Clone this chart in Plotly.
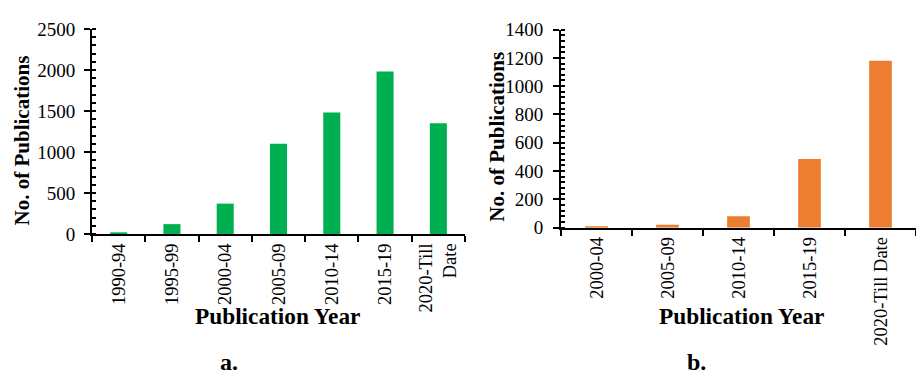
import plotly.graph_objects as go

# Data
cats_a = ["1990-94", "1995-99", "2000-04", "2005-09", "2010-14", "2015-19", "2020-Till Date"]
vals_a = [20, 120, 370, 1100, 1480, 1980, 1350]
ticks_a = ["1990-94", "1995-99", "2000-04", "2005-09", "2010-14", "2015-19", "2020-Till<br>Date"]

cats_b = ["2000-04", "2005-09", "2010-14", "2015-19", "2020-Till Date"]
vals_b = [10, 20, 80, 485, 1180]
ticks_b = ["2000-04", "2005-09", "2010-14", "2015-19", "2020-Till Date"]

W, H = 916, 382
FONT = "Liberation Serif, Times New Roman, Times, serif"
GREEN = "#00B050"
ORANGE = "#ED7D31"

def px_x(p):
    return p / W

def px_y(p):
    return 1 - p / H

fig = go.Figure()
fig.add_trace(go.Bar(x=cats_a, y=vals_a, marker=dict(color=GREEN, line=dict(width=0)),
                     xaxis="x", yaxis="y", showlegend=False))
fig.add_trace(go.Bar(x=cats_b, y=vals_b, marker=dict(color=ORANGE, line=dict(width=0)),
                     xaxis="x2", yaxis="y2", showlegend=False))

xtickfont = dict(family=FONT, size=18.5, color="black")
ytickfont = dict(family=FONT, size=19, color="black")

common_x = dict(type="category", showline=True, linecolor="black", linewidth=2,
                ticks="outside", tickson="boundaries", ticklen=6, tickwidth=1.5,
                tickcolor="black", tickangle=-90, tickfont=xtickfont,
                showgrid=False, zeroline=False, fixedrange=True)
common_y = dict(showline=True, linecolor="black", linewidth=2, ticks="outside",
                ticklen=6, tickwidth=1.5, tickcolor="black", tickfont=ytickfont,
                showgrid=False, zeroline=False)

fig.update_layout(
    width=W, height=H,
    margin=dict(l=0, r=0, t=0, b=0),
    paper_bgcolor="white", plot_bgcolor="white",
    bargap=0.68,
    xaxis=dict(common_x, domain=[px_x(92), px_x(465)], anchor="y",
               tickmode="array", tickvals=cats_a, ticktext=ticks_a),
    yaxis=dict(common_y, domain=[px_y(237), px_y(20)], anchor="x",
               range=[0, 2500], dtick=500, ticklabelstandoff=5,
               minor=dict(dtick=100, ticks="inside", ticklen=4, tickwidth=1.5, tickcolor="black")),
    xaxis2=dict(common_x, domain=[px_x(561), 1.0], anchor="y2",
                tickmode="array", tickvals=cats_b, ticktext=ticks_b),
    yaxis2=dict(common_y, domain=[px_y(230.3), px_y(20.7)], anchor="x2",
                range=[0, 1400], dtick=200, ticklabelstandoff=6,
                minor=dict(dtick=40, ticks="inside", ticklen=4, tickwidth=1.5, tickcolor="black")),
)

title_font = dict(family=FONT, size=23.3, color="black")
ytitle_font = dict(family=FONT, size=21, color="black")
ann = []
ann.append(dict(text="<b>No. of Publications</b>", x=px_x(22), y=px_y(138), xref="paper", yref="paper",
                textangle=-90, showarrow=False, font=ytitle_font,
                xanchor="center", yanchor="middle"))
ann.append(dict(text="<b>No. of Publications</b>", x=px_x(497), y=px_y(134), xref="paper", yref="paper",
                textangle=-90, showarrow=False, font=ytitle_font,
                xanchor="center", yanchor="middle"))
ann.append(dict(text="<b>Publication Year</b>", x=px_x(277), y=px_y(323.5), xref="paper", yref="paper",
                showarrow=False, font=title_font, xanchor="center", yanchor="middle"))
ann.append(dict(text="<b>Publication Year</b>", x=px_x(741), y=px_y(324), xref="paper", yref="paper",
                showarrow=False, font=title_font, xanchor="center", yanchor="middle"))
ann.append(dict(text="<b>a.</b>", x=px_x(229), y=px_y(373), xref="paper", yref="paper", borderpad=0,
                showarrow=False, font=dict(family=FONT, size=24, color="black"),
                xanchor="center", yanchor="middle"))
ann.append(dict(text="<b>b.</b>", x=px_x(696), y=px_y(373), xref="paper", yref="paper", borderpad=0,
                showarrow=False, font=dict(family=FONT, size=24, color="black"),
                xanchor="center", yanchor="middle"))
fig.update_layout(annotations=ann)

fig.write_html("out.html")
